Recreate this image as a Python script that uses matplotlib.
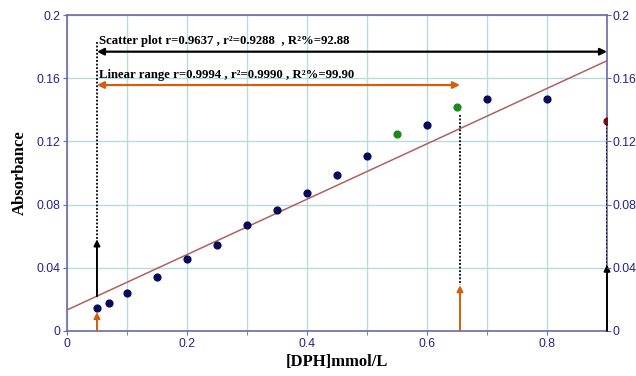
import matplotlib
matplotlib.use("Agg")
import matplotlib.pyplot as plt
import numpy as np

# Data
conc_blue = [0.05, 0.07, 0.10, 0.15, 0.20, 0.25, 0.30, 0.35, 0.40, 0.45, 0.50, 0.60, 0.70, 0.80]
abs_blue = [0.0146, 0.018, 0.024, 0.0344, 0.0456, 0.0546, 0.0669, 0.0766, 0.0875, 0.0987, 0.111, 0.1304, 0.1468, 0.1468]
conc_green = [0.55, 0.65]
abs_green = [0.1245, 0.1418]
conc_red = [0.90]
abs_red = [0.133]
fit_intercept = 0.0133
fit_slope = 0.1753
x_ticks = [0, 0.2, 0.4, 0.6, 0.8]
x_tick_labels = ["0", "0.2", "0.4", "0.6", "0.8"]
y_ticks = [0, 0.04, 0.08, 0.12, 0.16, 0.2]
y_tick_labels = ["0", "0.04", "0.08", "0.12", "0.16", "0.2"]
scatter_text = "Scatter plot r=0.9637 , r²=0.9288  , R²%=92.88"
linear_text = "Linear range r=0.9994 , r²=0.9990 , R²%=99.90"

navy = "#22228a"
spine_c = "#6a6aa8"
grid_c = "#b8dcdc"

fig = plt.figure(figsize=(6.36, 3.76), dpi=100)
ax = fig.add_axes([0.1053, 0.1197, 0.8491, 0.8403])
ax.set_xlim(0, 0.9)
ax.set_ylim(0, 0.2)

ax.set_xticks(x_ticks)
ax.set_xticklabels(x_tick_labels)
ax.set_xticks([0.1, 0.3, 0.5, 0.7], minor=True)
ax.set_yticks(y_ticks)
ax.set_yticklabels(y_tick_labels)
ax.grid(True, which="both", color=grid_c, lw=1.0, zorder=0)
ax.set_axisbelow(True)

for s in ax.spines.values():
    s.set_color(spine_c)
    s.set_linewidth(1.2)
ax.tick_params(axis="both", which="both", colors=spine_c, labelcolor=navy,
               labelsize=8.8, length=3, pad=2, direction="out")
for lab in ax.get_xticklabels() + ax.get_yticklabels():
    lab.set_family("Liberation Sans")

ax2 = ax.twinx()
ax2.set_ylim(0, 0.2)
ax2.set_yticks(y_ticks)
ax2.set_yticklabels(y_tick_labels)
ax2.tick_params(axis="y", colors=spine_c, labelcolor=navy, labelsize=8.8, length=3, pad=1.2,
                direction="out")
for lab in ax2.get_yticklabels():
    lab.set_family("Liberation Sans")
for s in ax2.spines.values():
    s.set_visible(False)

# Fit line
xl = np.array([0, 0.9])
ax.plot(xl, fit_intercept + fit_slope * xl, color="#b06060", lw=1.1, zorder=3)

ax.scatter(conc_blue, abs_blue, s=24, color="#0a0a5a", zorder=5)
ax.scatter(conc_green, abs_green, s=24, color="#1a8a1a", zorder=5)
ax.scatter(conc_red, abs_red, s=24, color="#7a0a0a", zorder=5)

# Horizontal arrows
ax.annotate("", xy=(0.9, 0.1768), xytext=(0.05, 0.1768),
            arrowprops=dict(arrowstyle="<|-|>", color="black", lw=1.6, mutation_scale=10,
                            shrinkA=0, shrinkB=0), zorder=6)
ax.annotate("", xy=(0.655, 0.1557), xytext=(0.05, 0.1557),
            arrowprops=dict(arrowstyle="<|-|>", color="#d06010", lw=1.6, mutation_scale=10,
                            shrinkA=0, shrinkB=0), zorder=6)

ax.text(0.053, 0.1795, scatter_text, family="Liberation Serif", fontweight="bold",
        fontsize=9.2, ha="left", va="bottom", color="black", zorder=7)
ax.text(0.053, 0.1585, linear_text, family="Liberation Serif", fontweight="bold",
        fontsize=9.2, ha="left", va="bottom", color="black", zorder=7)

# Dotted verticals
ax.plot([0.05, 0.05], [0.183, 0.057], color="black", lw=1.3, ls=(0, (1, 1)), zorder=6)
ax.plot([0.655, 0.655], [0.137, 0.029], color="black", lw=1.3, ls=(0, (1, 1)), zorder=6)
ax.plot([0.9, 0.9], [0.131, 0.041], color="black", lw=1.3, ls=(0, (1, 1)), zorder=6)

# Vertical arrows
ax.annotate("", xy=(0.05, 0.058), xytext=(0.05, 0.022),
            arrowprops=dict(arrowstyle="-|>", color="black", lw=1.4, mutation_scale=9,
                            shrinkA=0, shrinkB=0), zorder=6)
ax.annotate("", xy=(0.05, 0.012), xytext=(0.05, 0.0),
            arrowprops=dict(arrowstyle="-|>", color="#d06010", lw=1.4, mutation_scale=9,
                            shrinkA=0, shrinkB=0), zorder=6)
ax.annotate("", xy=(0.655, 0.029), xytext=(0.655, 0.0),
            arrowprops=dict(arrowstyle="-|>", color="#d06010", lw=1.4, mutation_scale=9,
                            shrinkA=0, shrinkB=0), zorder=6)
ax.annotate("", xy=(0.9, 0.042), xytext=(0.9, 0.0),
            arrowprops=dict(arrowstyle="-|>", color="black", lw=1.4, mutation_scale=9,
                            shrinkA=0, shrinkB=0), zorder=6)

ax.set_xlabel("[DPH]mmol/L", family="Liberation Serif", fontweight="bold", fontsize=12,
              color="black", labelpad=3)
ax.set_ylabel("Absorbance", family="Liberation Serif", fontweight="bold", fontsize=12,
              color="black", labelpad=6)

fig.savefig("out.png", dpi=100)
